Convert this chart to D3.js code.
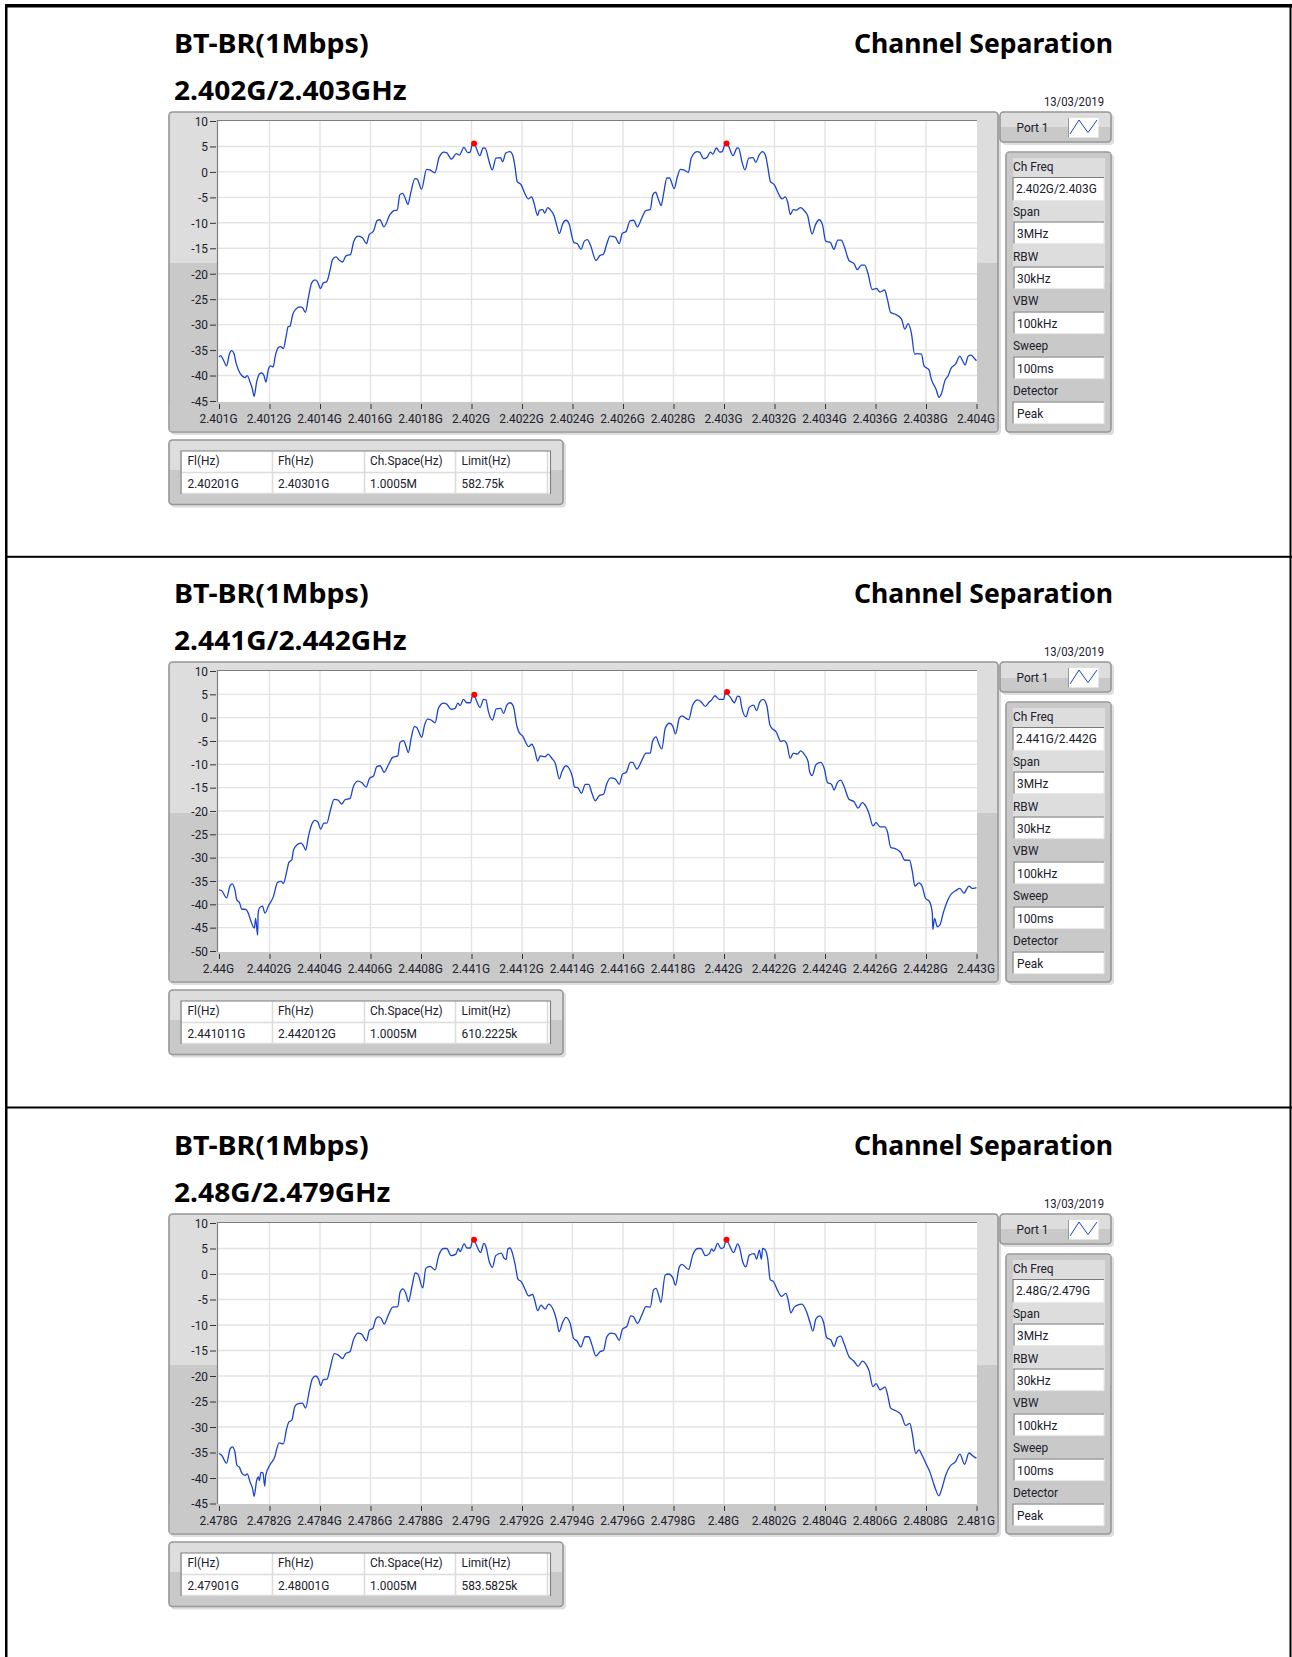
<!DOCTYPE html>
<html>
<head>
<meta charset="utf-8">
<script src="https://cdn.jsdelivr.net/npm/d3@7"></script>
<style>
  html, body { margin: 0; padding: 0; background: #fff; }
  svg { display: block; }
  text { font-family: Roboto, sans-serif; fill: #20202c; }
  .title { font-family: "Noto Sans", sans-serif; font-weight: 700; font-size: 27px; fill: #000; }
</style>
</head>
<body>
<svg id="ctner"></svg>
<script>
// trace A: 2.402G/2.403GHz, offset from span start in MHz and level in dBm
const freqA = [0,.007,.017,.03,.041,.05,.059,.067,.077,.09,.103,.112,.123,.132,.139,.149,.16,.169,.178,.186,.195,.204,.215,.222,.235,.244,.255,.265,.274,.281,.292,.305,.321,.331,.342,.354,.367,.38,.389,.402,.413,.426,.439,.45,.463,.476,.489,.503,.521,.534,.551,.569,.584,.595,.611,.627,.637,.653,.677,.693,.706,.716,.727,.74,.748,.759,.776,.785,.802,.822,.835,.855,.872,.891,.901,.921,.94,.952,.97,.985,.995,1.004,1.013,1.033,1.046,1.054,1.07,1.082,1.097,1.115,1.123,1.136,1.152,1.163,1.172,1.181,1.196,1.212,1.225,1.238,1.247,1.262,1.269,1.282,1.29,1.302,1.313,1.327,1.337,1.348,1.361,1.374,1.388,1.396,1.406,1.419,1.434,1.447,1.459,1.472,1.493,1.509,1.522,1.536,1.549,1.569,1.585,1.597,1.612,1.628,1.642,1.657,1.675,1.69,1.708,1.718,1.729,1.741,1.751,1.761,1.774,1.784,1.803,1.814,1.827,1.84,1.859,1.87,1.893,1.903,1.919,1.933,1.946,1.956,1.97,1.983,1.993,2.005,2.015,2.036,2.052,2.058,2.071,2.083,2.098,2.115,2.126,2.139,2.152,2.164,2.173,2.184,2.199,2.216,2.23,2.243,2.253,2.263,2.274,2.287,2.303,2.316,2.332,2.34,2.349,2.362,2.377,2.39,2.403,2.422,2.435,2.451,2.464,2.478,2.495,2.515,2.528,2.544,2.557,2.57,2.587,2.604,2.618,2.636,2.647,2.66,2.68,2.703,2.716,2.729,2.742,2.755,2.766,2.782,2.792,2.812,2.821,2.839,2.852,2.861,2.875,2.888,2.899,2.918,2.934,2.945,2.955,2.967,2.978,2.991,3];
const dbA = [-36.4,-36.1,-36.9,-38.1,-35.8,-35.1,-35.6,-37.4,-38.9,-40,-40.4,-40,-41.3,-42.6,-44.1,-41.3,-39.7,-39.5,-40,-41.3,-38.9,-38.1,-38.3,-36.4,-34.5,-34.3,-34.7,-32.5,-30.4,-30.3,-28,-26.9,-26.5,-26.7,-27.6,-24.7,-21.8,-21.2,-21.5,-22.9,-21.8,-21.6,-19.5,-17.2,-16.7,-17.3,-17.7,-16.5,-16.2,-13.6,-12.6,-13,-14.1,-12.3,-11.7,-9.5,-9.4,-10.8,-8.4,-7.6,-7.5,-4.5,-4.2,-5.5,-6.4,-4.2,-1.3,-1.4,-3.4,.5,.4,-.2,2.9,3.9,3.8,2.5,3.6,3.3,4.8,3.8,3.9,5.5,5.3,3.2,4.7,4.65,2,.4,2.7,2.8,2,3.7,4,3.3,1.1,-1.9,-2.5,-4.3,-5.3,-4.9,-6,-8.6,-7.5,-7.4,-8.1,-7,-7.5,-8.6,-10.4,-12.1,-10.2,-9.5,-10.4,-12.3,-13.9,-14.1,-15.2,-13.6,-13.3,-14.5,-17.4,-16.4,-16.2,-14.1,-12.6,-12.8,-14.1,-12.1,-11.7,-9.6,-9.5,-10.8,-9,-7.6,-7.4,-4.5,-4,-5.5,-6.6,-4.2,-1.2,-1.2,-3.3,-1.2,.5,.4,-.1,2.7,4,3.9,2.6,2.9,3.9,3.5,4.7,3.9,4,5.5,5.3,3.2,4.7,4.65,2,.4,2.7,2.8,1.9,3.3,4,3.3,1.1,-1.9,-2.5,-4.3,-5.3,-4.9,-6.1,-8.4,-7.4,-7.5,-7,-7.5,-8.7,-10.7,-12.2,-10.4,-9.4,-10.4,-13.6,-13.9,-15.2,-13.4,-13.4,-14.9,-17.4,-18,-19.2,-18.3,-18.3,-19.9,-23.1,-22.9,-23.6,-23.2,-25,-27.6,-28,-28.9,-30.9,-29.8,-31.6,-35.8,-35.7,-35.8,-38.1,-38.9,-40.7,-42.6,-44.3,-43.6,-41,-40,-38.6,-37.7,-36.2,-37.1,-37.9,-36.2,-36,-36.6,-37.1];

// trace B: 2.441G/2.442GHz
const freqB = [0,.011,.03,.044,.053,.063,.071,.081,.09,.106,.116,.127,.14,.145,.153,.155,.161,.172,.182,.196,.215,.232,.246,.255,.268,.277,.288,.295,.308,.325,.336,.343,.354,.367,.38,.391,.403,.415,.427,.44,.456,.47,.486,.499,.519,.532,.55,.565,.583,.596,.612,.625,.638,.654,.671,.688,.708,.717,.731,.741,.75,.761,.774,.783,.803,.814,.826,.84,.856,.869,.889,.902,.919,.935,.946,.955,.968,.982,.996,1.004,1.012,1.034,1.048,1.057,1.067,1.083,1.098,1.116,1.127,1.14,1.153,1.166,1.18,1.189,1.202,1.226,1.239,1.25,1.262,1.272,1.292,1.303,1.318,1.332,1.348,1.358,1.374,1.387,1.401,1.408,1.421,1.435,1.451,1.464,1.477,1.49,1.506,1.523,1.536,1.552,1.569,1.585,1.598,1.613,1.629,1.638,1.655,1.675,1.691,1.708,1.717,1.731,1.741,1.754,1.767,1.784,1.797,1.808,1.823,1.833,1.86,1.876,1.896,1.909,1.926,1.942,1.951,1.964,1.982,1.999,2.005,2.012,2.025,2.041,2.054,2.062,2.071,2.087,2.1,2.117,2.129,2.142,2.155,2.169,2.182,2.192,2.206,2.225,2.236,2.248,2.262,2.275,2.291,2.304,2.32,2.333,2.339,2.349,2.364,2.383,2.397,2.41,2.426,2.436,2.449,2.462,2.476,2.495,2.515,2.531,2.548,2.561,2.574,2.59,2.602,2.618,2.636,2.647,2.66,2.68,2.7,2.715,2.735,2.746,2.756,2.772,2.785,2.798,2.814,2.825,2.827,2.834,2.845,2.855,2.868,2.884,2.897,2.917,2.934,2.95,2.97,2.983,3];
const dbB = [-36.9,-37.1,-38.6,-36,-35.6,-36.9,-39.1,-39.6,-41,-41.1,-41.9,-43.7,-45.1,-43,-46.6,-42,-40.7,-40.4,-41.9,-40.3,-38.4,-35.3,-35.1,-35.5,-33,-31,-30.5,-28.4,-27.3,-26.9,-27.6,-28.4,-25.5,-22.9,-22,-22.3,-23.9,-22.6,-22.6,-20.1,-17.5,-17.6,-18.5,-17.6,-17.3,-14.8,-13.6,-13.9,-14.9,-13,-12.5,-10.5,-10.3,-11.7,-10.1,-8.5,-8.2,-5.3,-4.9,-6.2,-7.5,-4.4,-1.9,-2.1,-4.2,-1.6,-.3,-.5,-1.1,2,3.1,2.9,1.8,2,3.1,2.6,3.9,3.2,3.2,4.7,4.5,2.2,3.9,3.8,1.3,-.5,1.9,2,.9,2.7,3.2,2.4,-1.9,-3.2,-3.9,-6.2,-5.7,-6.9,-9.3,-8.2,-8.4,-7.8,-8.7,-9.8,-13.1,-11.6,-10.3,-10.9,-13,-14.9,-15,-16.2,-14.3,-14.3,-16.2,-17.8,-16.7,-16.4,-14.1,-12.9,-13.1,-14.3,-12.1,-11.7,-9.6,-9.6,-11,-9.1,-7.6,-7.6,-5.1,-4.1,-5.5,-6.7,-2.3,-1.2,-1.8,-3.5,-.1,.4,-.4,2.7,3.8,3.4,2.4,3.4,3.8,4.7,3.9,3.9,5.4,5.1,4.4,3.2,4.6,4.5,2,.2,2.2,2.7,1.5,3.4,3.9,2.7,-1.6,-2.4,-3,-5.1,-4.9,-5.5,-8.7,-7.6,-7.8,-7.1,-8,-9.4,-11.6,-12.4,-10.1,-9.6,-10.9,-13.9,-14.3,-15.5,-13.9,-13.4,-14.8,-17.5,-18,-19.4,-18.2,-18.9,-20.5,-23.2,-22.5,-23.4,-23.4,-24.4,-27.8,-28.1,-28.9,-30.5,-30.6,-33,-36.1,-35.4,-36.2,-38.7,-39.4,-41.9,-45.4,-43,-44.8,-44.4,-41.9,-39.4,-38,-37.1,-36.6,-37.6,-36.1,-36.6,-36.4];

// trace C: 2.48G/2.479GHz
const freqC = [0,.011,.03,.044,.053,.063,.071,.081,.09,.103,.112,.123,.133,.139,.149,.156,.16,.166,.174,.181,.185,.202,.219,.238,.255,.268,.277,.288,.301,.314,.33,.343,.357,.37,.383,.394,.403,.413,.428,.44,.457,.473,.489,.502,.519,.532,.55,.565,.584,.596,.609,.621,.631,.642,.654,.671,.688,.708,.717,.728,.74,.75,.764,.777,.787,.807,.819,.836,.856,.869,.889,.902,.919,.938,.948,.955,.971,.982,.996,1.004,1.012,1.036,1.049,1.057,1.07,1.083,1.096,1.118,1.129,1.137,1.144,1.153,1.162,1.173,1.184,1.197,1.213,1.226,1.242,1.25,1.262,1.275,1.292,1.305,1.329,1.338,1.347,1.361,1.374,1.391,1.404,1.417,1.433,1.45,1.464,1.477,1.493,1.51,1.523,1.536,1.552,1.569,1.585,1.598,1.615,1.631,1.642,1.657,1.675,1.691,1.708,1.721,1.731,1.741,1.75,1.767,1.78,1.797,1.808,1.823,1.833,1.86,1.876,1.896,1.909,1.926,1.942,1.951,1.959,1.975,1.988,1.999,2.008,2.014,2.038,2.054,2.061,2.074,2.087,2.1,2.12,2.129,2.14,2.148,2.153,2.162,2.173,2.183,2.196,2.212,2.228,2.245,2.254,2.265,2.278,2.291,2.308,2.327,2.34,2.352,2.364,2.379,2.394,2.407,2.423,2.436,2.449,2.462,2.476,2.495,2.515,2.531,2.548,2.561,2.574,2.59,2.602,2.618,2.638,2.647,2.66,2.68,2.702,2.719,2.736,2.746,2.759,2.772,2.785,2.801,2.816,2.829,2.838,2.851,2.862,2.877,2.895,2.917,2.934,2.953,2.97,2.989,3];
const dbC = [-35.2,-35.6,-37.1,-34.3,-33.9,-34.9,-37.5,-37.9,-39,-39.5,-39.2,-40.8,-42.1,-43.6,-40.5,-39.8,-40.5,-38.9,-39,-41.6,-39.5,-37.4,-36.1,-33.1,-33.3,-30.3,-29,-28.7,-25.9,-25.4,-25.3,-26.3,-23.1,-20.5,-20,-20.6,-21.9,-20.7,-20.6,-18.5,-15.6,-15.9,-16.6,-15.6,-15.2,-13,-11.6,-11.8,-13.1,-11,-10.7,-8.8,-8.4,-8.7,-9.8,-8,-6.5,-6.4,-3.6,-2.9,-3.8,-5.4,-2.5,.2,0,-2.7,1.1,1.5,.8,3.4,5,5,3.6,3.9,5,4.4,5.9,5.1,5.1,6.5,6.3,4.2,6,5.4,2.5,1.3,3.6,4.1,3.1,2.8,4.9,5.1,4.1,1.8,-1,-1.5,-3.1,-4.3,-4,-5.1,-7.2,-6.1,-6.9,-5.9,-7.7,-9.3,-11.3,-9.5,-8.5,-9.7,-12.6,-13.1,-14.3,-12.3,-12.3,-13.9,-16.1,-15.2,-15,-12.3,-11.6,-11.8,-13,-10.8,-10.3,-8.2,-8.4,-9.7,-8,-6.4,-6.5,-3.1,-2.8,-4.1,-5.6,-.2,0,-.7,-2.2,1.4,1.9,.9,3.7,5,5,3.6,4,4.9,4.5,6,5,5.2,6.5,6.3,4.2,5.9,5.3,2.4,1.4,3.7,4,2.9,4.7,2.9,5,4.8,3,-1.1,-1.5,-3.2,-4.4,-3.8,-5.1,-7.6,-6.5,-6.1,-5.9,-7.4,-9.4,-11.2,-8.8,-8.2,-9.4,-12.5,-12.9,-14.2,-12.5,-12.2,-13.7,-16.2,-17.1,-18.1,-17.1,-17.6,-18.9,-22.1,-21.5,-22.7,-22.2,-23.5,-26.3,-26.8,-27.6,-29.7,-29.3,-31.4,-35.2,-34.5,-35.6,-37.3,-38.9,-40.9,-42.2,-43.5,-42.2,-39.6,-37.7,-36.8,-35.3,-37.3,-35.1,-35.8,-36.1];

// peak markers, [offset MHz, dBm]
const peaksA = [[1.01, 5.6], [2.01, 5.6]];
const peaksB = [[1.011, 4.9], [2.012, 5.5]];
const peaksC = [[1.01, 6.7], [2.01, 6.7]];

// axis labels
const xLabelsA = ["2.401G","2.4012G","2.4014G","2.4016G","2.4018G","2.402G","2.4022G","2.4024G","2.4026G","2.4028G","2.403G","2.4032G","2.4034G","2.4036G","2.4038G","2.404G"];
const xLabelsB = ["2.44G","2.4402G","2.4404G","2.4406G","2.4408G","2.441G","2.4412G","2.4414G","2.4416G","2.4418G","2.442G","2.4422G","2.4424G","2.4426G","2.4428G","2.443G"];
const xLabelsC = ["2.478G","2.4782G","2.4784G","2.4786G","2.4788G","2.479G","2.4792G","2.4794G","2.4796G","2.4798G","2.48G","2.4802G","2.4804G","2.4806G","2.4808G","2.481G"];
const yTicksA = [10,5,0,-5,-10,-15,-20,-25,-30,-35,-40,-45];
const yTicksB = [10,5,0,-5,-10,-15,-20,-25,-30,-35,-40,-45,-50];
const yTicksC = yTicksA;

// texts
const tableHeads = ["Fl(Hz)", "Fh(Hz)", "Ch.Space(Hz)", "Limit(Hz)"];
const settingNames = ["Ch Freq", "Span", "RBW", "VBW", "Sweep", "Detector"];
const settingValues = ["3MHz", "30kHz", "100kHz", "100ms", "Peak"];

const charts = [
  { top: 0, sub: "2.402G/2.403GHz", freq: freqA, db: dbA, peaks: peaksA, xLabels: xLabelsA, yTicks: yTicksA, ch: "2.402G/2.403G", row: ["2.40201G", "2.40301G", "1.0005M", "582.75k"] },
  { top: 550, sub: "2.441G/2.442GHz", freq: freqB, db: dbB, peaks: peaksB, xLabels: xLabelsB, yTicks: yTicksB, ch: "2.441G/2.442G", row: ["2.441011G", "2.442012G", "1.0005M", "610.2225k"] },
  { top: 1102, sub: "2.48G/2.479GHz", freq: freqC, db: dbC, peaks: peaksC, xLabels: xLabelsC, yTicks: yTicksC, ch: "2.48G/2.479G", row: ["2.47901G", "2.48001G", "1.0005M", "583.5825k"] },
];

main();

function main() {
  const width = 1292;
  const height = 1657;
  const svg = d3.select("#ctner").attr("width", width).attr("height", height);
  svg.append("rect").attr("width", width).attr("height", height).attr("fill", "#fff");

  // black frame round the page
  const frame = svg.append("g").attr("fill", "#000");
  frame.append("rect").attr("x", 5).attr("y", 4).attr("width", 1287).attr("height", 3.5);
  frame.append("rect").attr("x", 5).attr("y", 4).attr("width", 2.5).attr("height", height - 4);
  frame.append("rect").attr("x", 1289.5).attr("y", 4).attr("width", 2).attr("height", height - 4);
  frame.append("rect").attr("x", 5).attr("y", 555.8).attr("width", 1287).attr("height", 2);
  frame.append("rect").attr("x", 5).attr("y", 1106.5).attr("width", 1287).attr("height", 2);

  charts.forEach((c) => renderChart(svg, c));
}

// grey LabVIEW style box, light above splitY and darker below
function box(g, x, y, w, h, splitY) {
  g.append("rect").attr("x", x + 2).attr("y", y + 2).attr("width", w + 1).attr("height", h + 1)
    .attr("rx", 4).attr("fill", "#dedede");
  const id = "grad" + Math.random().toString(36).slice(2);
  const k = (splitY - y) / h;
  const grad = g.append("linearGradient").attr("id", id).attr("x1", 0).attr("x2", 0).attr("y1", 0).attr("y2", 1);
  [[0, "#dddddd"], [k, "#dddddd"], [k, "#c9c9c9"], [1, "#c9c9c9"]].forEach(([o, col]) => {
    grad.append("stop").attr("offset", o).attr("stop-color", col);
  });
  g.append("rect").attr("x", x).attr("y", y).attr("width", w).attr("height", h)
    .attr("rx", 3.5).attr("fill", `url(#${id})`).attr("stroke", "#969696").attr("stroke-width", 1.6);
}

// squeeze text sideways, the instrument font is much narrower than what we have here
function squeeze(sel, k) {
  sel.each(function() {
    const len = this.getComputedTextLength();
    d3.select(this).attr("textLength", len * k).attr("lengthAdjust", "spacingAndGlyphs");
  });
}

function label(g, x, y, s, anchor) {
  return g.append("text").attr("x", x).attr("y", y).attr("text-anchor", anchor || "start")
    .attr("font-size", 13.5).text(s).call(squeeze, 0.88);
}

function renderChart(svg, c) {
  const g = svg.append("g").attr("transform", `translate(0, ${c.top})`);
  const yBottom = c.top === 1102 ? 401.5 : 401;

  /* titles */
  g.append("text").attr("class", "title").attr("x", 174).attr("y", 53).text("BT-BR(1Mbps)").call(squeeze, 1.06);
  g.append("text").attr("class", "title").attr("x", 174).attr("y", 100).text(c.sub).call(squeeze, 1.043);
  g.append("text").attr("class", "title").attr("x", 1113).attr("y", 53).attr("text-anchor", "end").text("Channel Separation").call(squeeze, 0.983);
  label(g, 1104, 105.5, "13/03/2019", "end").call(squeeze, 0.95);

  /* plot box */
  box(g, 169, 112, 829, 320, 262.5);
  g.append("rect").attr("x", 169.8).attr("y", 402).attr("width", 827.4).attr("height", 29.2).attr("fill", "#c9c9c9");
  g.append("rect").attr("x", 217.5).attr("y", 120.5).attr("width", 759.5).attr("height", 281.5).attr("fill", "#fff");

  /* scales */
  const x = d3.scaleLinear().domain([0, 3]).range([219, 976.5]);
  const y = d3.scaleLinear().domain([10, d3.min(c.yTicks)]).range([121, yBottom]);
  const xTicks = c.xLabels.map((_, i) => i * 0.2);

  /* grid */
  const grid = g.append("g").attr("stroke", "#e3e3e3").attr("stroke-width", 1.4);
  grid.selectAll(".h").data(c.yTicks.slice(1, -1)).join("line").attr("class", "h")
    .attr("x1", 218).attr("x2", 977).attr("y1", (d) => y(d)).attr("y2", (d) => y(d));
  grid.selectAll(".v").data(xTicks.slice(1, -1)).join("line").attr("class", "v")
    .attr("x1", (d) => x(d)).attr("x2", (d) => x(d)).attr("y1", 121).attr("y2", 402);
  g.append("path").attr("d", "M217.5,402V120.5H977").attr("fill", "none").attr("stroke", "#7d7d7d").attr("stroke-width", 1.2);

  /* axes */
  const yGroup = g.append("g").attr("transform", "translate(216, 0)")
    .call(d3.axisLeft(y).tickValues(c.yTicks).tickSize(6).tickPadding(2).tickFormat((d) => (d < 0 ? "-" + -d : d)))
    .call((s) => s.select(".domain").remove());
  yGroup.selectAll(".tick line").attr("stroke", "#333");
  yGroup.selectAll(".tick text").attr("font-size", 13.5).attr("font-family", "Roboto, sans-serif").call(squeeze, 0.88);

  const xGroup = g.append("g").attr("transform", "translate(0, 404)")
    .call(d3.axisBottom(x).tickValues(xTicks).tickSize(5).tickPadding(4).tickFormat((d, i) => c.xLabels[i]))
    .call((s) => s.select(".domain").remove());
  xGroup.selectAll(".tick line").attr("stroke", "#333");
  xGroup.selectAll(".tick text").attr("font-size", 13.5).attr("font-family", "Roboto, sans-serif").attr("dx", -1).call(squeeze, 0.88);

  /* trace and peaks */
  const line = d3.line().x((d) => x(d[0])).y((d) => y(d[1])).curve(d3.curveMonotoneX);
  g.append("path").attr("d", line(d3.zip(c.freq, c.db)))
    .attr("fill", "none").attr("stroke", "#1a44cf").attr("stroke-width", 1.3).attr("stroke-linejoin", "round");
  g.selectAll(".peak").data(c.peaks).join("circle").attr("class", "peak")
    .attr("cx", (d) => x(d[0])).attr("cy", (d) => y(d[1])).attr("r", 3).attr("fill", "#f00");

  renderPort(g);
  renderSettings(g, c);
  renderTable(g, c);
}

function renderPort(g) {
  box(g, 1000, 112, 111, 30, 127.5);
  label(g, 1016.5, 132, "Port 1");
  g.append("rect").attr("x", 1068.5).attr("y", 118).attr("width", 30).attr("height", 19.5).attr("fill", "#fff");
  g.append("path").attr("d", "M1068.5,118V137.5").attr("stroke", "#999");
  const lx = d3.scaleLinear().domain([0, 3]).range([1070, 1097]);
  const ly = d3.scaleLinear().domain([0, 1]).range([134, 120]);
  g.append("path").attr("d", d3.line().x((d, i) => lx(i)).y((d) => ly(d))([0, 1, 0.1, 1]))
    .attr("fill", "none").attr("stroke", "#1a44cf").attr("stroke-width", 1);
}

function field(g, x, y, w, h) {
  g.append("rect").attr("x", x).attr("y", y).attr("width", w).attr("height", h)
    .attr("fill", "#fff").attr("stroke", "#e8e8e8").attr("stroke-width", 1.2);
  g.append("path").attr("d", `M${x},${y + h}V${y}H${x + w}`).attr("fill", "none").attr("stroke", "#7a7a7a").attr("stroke-width", 1.1);
}

function renderSettings(g, c) {
  box(g, 1006, 152, 105, 280, 283);
  g.append("rect").attr("x", 1007).attr("y", 153).attr("width", 6).attr("height", 130).attr("fill", "#c9c9c9");
  g.append("rect").attr("x", 1105).attr("y", 153).attr("width", 5.2).attr("height", 130).attr("fill", "#c9c9c9");
  g.append("rect").attr("x", 1007).attr("y", 153).attr("width", 103).attr("height", 5).attr("fill", "#c9c9c9");

  const values = [c.ch].concat(settingValues);
  const ys = [177.5, 222, 267, 312, 357, 402];
  const nameY = [171, 216, 260.5, 305, 350, 395];
  settingNames.forEach((name, i) => {
    label(g, 1013, nameY[i], name);
    const wide = i === 0 || i === 5;
    field(g, wide ? 1013 : 1014, ys[i], wide ? 91 : 90, wide && i === 0 ? 23 : 21.5);
    label(g, i === 0 ? 1016 : 1017, ys[i] + 15.5, values[i]);
  });
}

function renderTable(g, c) {
  box(g, 169, 440, 394, 64.5, 470);
  const colX = [181, 272.5, 364.5, 455.5, 547.5];
  const textX = [187.5, 278, 370, 461.5];
  g.append("rect").attr("x", 181).attr("y", 451).attr("width", 369.5).attr("height", 43).attr("fill", "#fff");
  const lines = g.append("g").attr("stroke", "#dcdcdc").attr("stroke-width", 1.6);
  colX.forEach((cx) => lines.append("line").attr("x1", cx).attr("x2", cx).attr("y1", 451).attr("y2", 494));
  lines.append("line").attr("x1", 181).attr("x2", 550.5).attr("y1", 472.5).attr("y2", 472.5);
  lines.append("line").attr("x1", 181).attr("x2", 550.5).attr("y1", 493.5).attr("y2", 493.5);
  g.append("path").attr("d", "M181,494V451H550.5V494").attr("fill", "none").attr("stroke", "#7d7d7d").attr("stroke-width", 1.1);
  tableHeads.forEach((s, i) => label(g, textX[i], 465, s));
  c.row.forEach((s, i) => label(g, textX[i], 487.5, s));
}
</script>
</body>
</html>
